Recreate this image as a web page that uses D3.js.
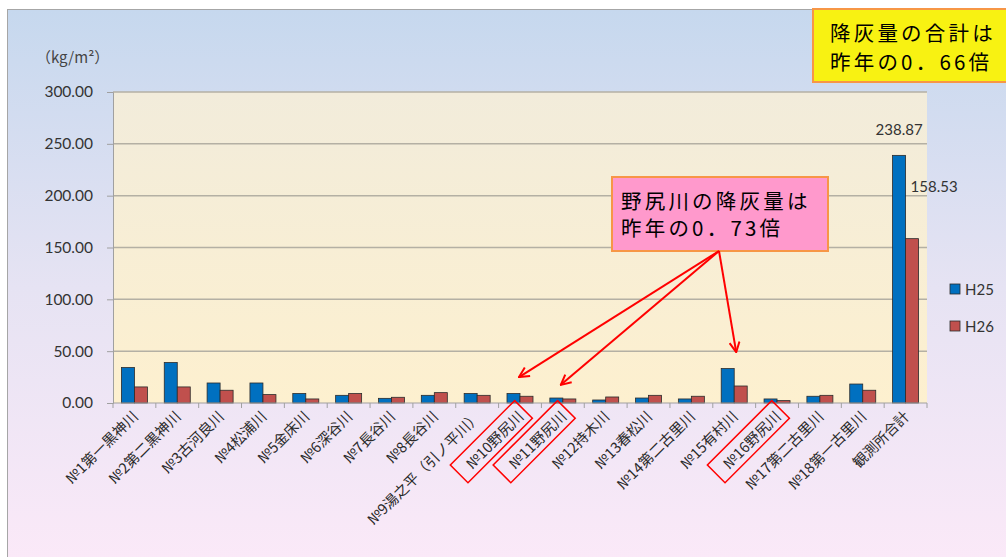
<!DOCTYPE html>
<html>
<head>
<meta charset="utf-8">
<script src="https://cdnjs.cloudflare.com/ajax/libs/d3/7.8.5/d3.min.js"></script>
<style>
  body { margin: 0; background: #fff; }
  svg { display: block; }
</style>
</head>
<body>
<div id="chart"></div>
<script>
// データ
var categories = ["№1第一黒神川", "№2第二黒神川", "№3古河良川", "№4松浦川", "№5金床川",
  "№6深谷川", "№7長谷川", "№8長谷川", "№9湯之平（引ノ平川）", "№10野尻川", "№11野尻川",
  "№12持木川", "№13春松川", "№14第二古里川", "№15有村川", "№16野尻川", "№17第二古里川",
  "№18第一古里川", "観測所合計"];
var seriesNames = ["H25", "H26"];
var h25 = [34.2, 39.0, 19.3, 19.3, 9.1, 7.4, 4.5, 7.4, 9.1, 9.1, 4.8, 2.9, 4.8, 3.9, 33.2, 3.9, 6.5, 18.3, 238.87];
var h26 = [15.5, 15.5, 12.3, 8.1, 3.9, 9.1, 5.5, 10.0, 7.4, 6.5, 3.9, 5.8, 7.4, 6.5, 16.4, 2.3, 7.4, 12.3, 158.53];
var yTicks = [0, 50, 100, 150, 200, 250, 300];
var boxed = ["№10野尻川", "№11野尻川", "№16野尻川"];

var W = 1006, H = 557;
var m = { left: 113, right: 927, top: 92, bottom: 403 };
var colors = ["#0070c0", "#c0504d"];
var numFont = "Lato, 'Open Sans', sans-serif";
var jpFont = "'Noto Sans CJK JP', sans-serif";

var svg = d3.select("#chart").append("svg").attr("width", W).attr("height", H);
var defs = svg.append("defs");

var bgGrad = defs.append("linearGradient").attr("id", "bgGrad").attr("x1", 0).attr("y1", 0).attr("x2", 0).attr("y2", 1);
bgGrad.append("stop").attr("offset", "0%").attr("stop-color", "#c6d8ee");
bgGrad.append("stop").attr("offset", "50%").attr("stop-color", "#e6e3f3");
bgGrad.append("stop").attr("offset", "100%").attr("stop-color", "#fbe9f8");

var plotGrad = defs.append("linearGradient").attr("id", "plotGrad").attr("x1", 0).attr("y1", 0).attr("x2", 0).attr("y2", 1);
plotGrad.append("stop").attr("offset", "0%").attr("stop-color", "#f2ecdb");
plotGrad.append("stop").attr("offset", "100%").attr("stop-color", "#fdf0cf");

defs.append("marker").attr("id", "arrow").attr("viewBox", "0 0 12 12")
  .attr("refX", 11).attr("refY", 6).attr("markerWidth", 12).attr("markerHeight", 12)
  .attr("markerUnits", "userSpaceOnUse").attr("orient", "auto")
  .append("path").attr("d", "M1,1 L11,6 L1,11").attr("fill", "none")
  .attr("stroke", "#ff0000").attr("stroke-width", 2);

// 背景
svg.append("rect").attr("x", 7.5).attr("y", 9.5).attr("width", W).attr("height", H)
  .attr("fill", "url(#bgGrad)").attr("stroke", "#a6a6a6");
svg.append("rect").attr("x", m.left).attr("y", m.top).attr("width", m.right - m.left)
  .attr("height", m.bottom - m.top).attr("fill", "url(#plotGrad)");

var x = d3.scaleBand().domain(categories).range([m.left, m.right]);
var xs = d3.scaleBand().domain(seriesNames).range([0, 26]);
var y = d3.scaleLinear().domain([0, 300]).range([m.bottom, m.top]);

// グリッド
svg.append("g").selectAll("line").data(yTicks.slice(1)).enter().append("line")
  .attr("x1", m.left).attr("x2", m.right)
  .attr("y1", function(d) { return y(d); }).attr("y2", function(d) { return y(d); })
  .attr("stroke", "#b4b0a4").attr("stroke-width", 1.5);

// Y軸
var yAxis = svg.append("g").attr("transform", "translate(" + m.left + ",0)")
  .call(d3.axisLeft(y).tickValues(yTicks).tickFormat(d3.format(".2f")).tickSize(6).tickPadding(14));
yAxis.select(".domain").attr("stroke", "#a0a0a0");
yAxis.selectAll(".tick line").attr("stroke", "#a0a0a0");
yAxis.selectAll("text").attr("font-family", numFont).attr("font-size", 15.5).attr("fill", "#333");

svg.append("text").attr("x", 36).attr("y", 63).attr("font-family", jpFont)
  .attr("font-size", 15).attr("fill", "#444").text("（kg/m²）");

// 棒
var rows = categories.map(function(c, i) { return { cat: c, vals: [h25[i], h26[i]] }; });
var groups = svg.append("g").selectAll("g").data(rows).enter().append("g")
  .attr("transform", function(d) { return "translate(" + (x(d.cat) + (x.bandwidth() - 26) / 2) + ",0)"; });
groups.selectAll("rect").data(function(d) { return d.vals; }).enter().append("rect")
  .attr("x", function(d, i) { return xs(seriesNames[i]); })
  .attr("y", function(d) { return y(d); })
  .attr("width", xs.bandwidth())
  .attr("height", function(d) { return y(0) - y(d); })
  .attr("fill", function(d, i) { return colors[i]; })
  .attr("stroke", "#2b2b2b").attr("stroke-width", 0.8);

// X軸
svg.append("line").attr("x1", m.left).attr("x2", m.right).attr("y1", m.bottom).attr("y2", m.bottom)
  .attr("stroke", "#a0a0a0");
var bounds = categories.map(function(c) { return x(c); }).concat([m.right]);
svg.append("g").selectAll("line").data(bounds).enter().append("line")
  .attr("x1", function(d) { return d; }).attr("x2", function(d) { return d; })
  .attr("y1", m.bottom).attr("y2", m.bottom + 5).attr("stroke", "#a0a0a0");

var labels = svg.append("g").selectAll("g").data(categories).enter().append("g")
  .attr("transform", function(d) { return "translate(" + (x(d) + x.bandwidth() / 2 + 1) + "," + (m.bottom + 11) + ") rotate(-45)"; });
labels.append("text").attr("text-anchor", "end").attr("dy", "0.35em")
  .attr("font-family", jpFont).attr("font-size", 14.5).attr("fill", "#2a2a2a")
  .text(function(d) { return d; });
labels.filter(function(d) { return boxed.indexOf(d) >= 0; }).each(function() {
  var g = d3.select(this);
  var bb = g.select("text").node().getBBox();
  g.insert("rect", "text").attr("x", bb.x - 12).attr("y", bb.y - 2)
    .attr("width", bb.width + 17).attr("height", bb.height + 4)
    .attr("fill", "none").attr("stroke", "#ff0000").attr("stroke-width", 1.5);
});

// データラベル（観測所合計）
var last = categories.length - 1;
var gx = x(categories[last]) + (x.bandwidth() - 26) / 2;
svg.append("text").attr("x", gx + xs("H25") + xs.bandwidth() / 2).attr("y", y(h25[last]) - 20)
  .attr("text-anchor", "middle").attr("font-family", numFont).attr("font-size", 15).attr("fill", "#333")
  .text(d3.format(".2f")(h25[last]));
svg.append("text").attr("x", gx + xs("H26") + 5).attr("y", y(h26[last]) - 47)
  .attr("font-family", numFont).attr("font-size", 15).attr("fill", "#333")
  .text(d3.format(".2f")(h26[last]));

// 凡例
var legend = svg.append("g").selectAll("g").data(seriesNames).enter().append("g")
  .attr("transform", function(d, i) { return "translate(950," + (284 + i * 37) + ")"; });
legend.append("rect").attr("width", 10).attr("height", 10)
  .attr("fill", function(d, i) { return colors[i]; }).attr("stroke", "#2b2b2b").attr("stroke-width", 0.8);
legend.append("text").attr("x", 15).attr("y", 10.5).attr("font-family", numFont)
  .attr("font-size", 15).attr("fill", "#333").text(function(d) { return d; });

// 注釈ボックス（2行は1つのtextにまとめる）
function noteBox(bx, by, bw, bh, pad, gap, fill, lines) {
  var g = svg.append("g");
  g.append("rect").attr("x", bx).attr("y", by).attr("width", bw).attr("height", bh)
    .attr("fill", fill).attr("stroke", "#f79646").attr("stroke-width", 2);
  var t = g.append("text").attr("font-family", jpFont).attr("font-size", 20.5)
    .attr("letter-spacing", 3.2).attr("fill", "#000");
  t.selectAll("tspan").data(lines).enter().append("tspan")
    .attr("x", bx + pad).attr("y", function(d, i) { return by + 32 + i * gap; })
    .text(function(d) { return d; });
}
noteBox(813, 9, 200, 73, 17, 29, "#f8f212", ["降灰量の合計は", "昨年の0．66倍"]);
noteBox(612, 177, 216, 74, 9, 27, "#ff99cc", ["野尻川の降灰量は", "昨年の0．73倍"]);

// 矢印
var arrows = [
  { cat: "№10野尻川", v: 25, dx: -1 },
  { cat: "№11野尻川", v: 17.5, dx: -2 },
  { cat: "№15有村川", v: 49, dx: 2 }
];
svg.append("g").selectAll("line").data(arrows).enter().append("line")
  .attr("x1", 719).attr("y1", 251)
  .attr("x2", function(d) { return x(d.cat) + x.bandwidth() / 2 + d.dx; })
  .attr("y2", function(d) { return y(d.v); })
  .attr("stroke", "#ff0000").attr("stroke-width", 2).attr("marker-end", "url(#arrow)");
</script>
</body>
</html>
